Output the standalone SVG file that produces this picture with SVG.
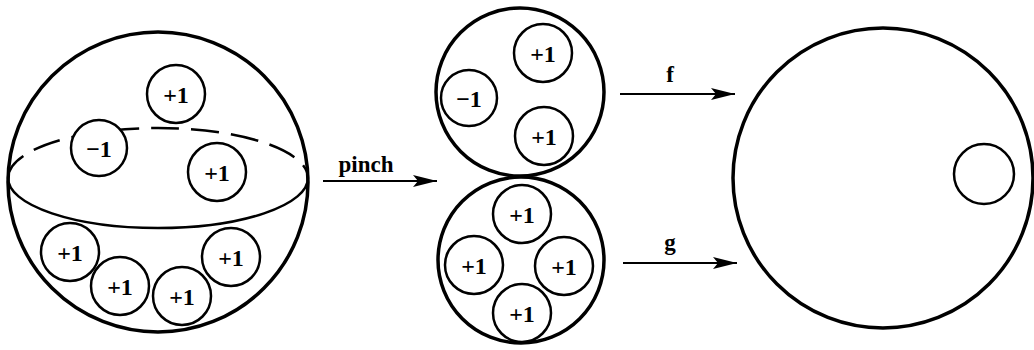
<svg xmlns="http://www.w3.org/2000/svg" width="1034" height="350" viewBox="0 0 1034 350">
<style>
.big{fill:none;stroke:#000;stroke-width:3.5}
.sm{fill:#fff;stroke:#000;stroke-width:2.5}
.lbl{font-family:"Liberation Serif","Times New Roman",serif;font-size:24px;font-weight:bold;fill:#000;text-anchor:middle;dominant-baseline:central}
.al{font-family:"Liberation Serif","Times New Roman",serif;font-size:23px;fill:#000;text-anchor:middle;font-weight:bold}
.arr{stroke:#000;stroke-width:2.2;fill:none}
</style>
<defs>
<marker id="ah" viewBox="0 0 24 12" refX="24" refY="6" markerWidth="24" markerHeight="12" markerUnits="userSpaceOnUse" orient="auto">
<path d="M0 0 L24 6 L0 12 L5 6 Z" fill="#000"/>
</marker>
<g id="p1">
<circle r="29" class="sm"/>
<text class="lbl" y="1">+1</text>
</g>
</defs>
<g id="sphere">
<circle cx="158" cy="182" r="150" class="big"/>
<path d="M8 178 A150 50 0 0 1 308 178" fill="none" stroke="#000" stroke-width="2.5" stroke-dasharray="28 12"/>
<path d="M8 178 A150 50 0 0 0 308 178" fill="none" stroke="#000" stroke-width="2.5"/>
<use href="#p1" x="176" y="94"/>
<g><circle cx="99" cy="148" r="28" class="sm"/><text class="lbl" x="99" y="149">−1</text></g>
<use href="#p1" x="217" y="172"/>
<use href="#p1" x="70" y="252"/>
<use href="#p1" x="120" y="286"/>
<use href="#p1" x="182" y="296"/>
<use href="#p1" x="231" y="257"/>
</g>
<g id="top-sphere">
<circle cx="520" cy="92" r="84" class="big"/>
<use href="#p1" x="543" y="53"/>
<g><circle cx="469" cy="98" r="28" class="sm"/><text class="lbl" x="469" y="99">−1</text></g>
<use href="#p1" x="544" y="136"/>
</g>
<g id="bottom-sphere">
<circle cx="521" cy="260" r="83" class="big"/>
<use href="#p1" x="522" y="214"/>
<use href="#p1" x="474" y="265"/>
<use href="#p1" x="564" y="266"/>
<use href="#p1" x="522" y="313"/>
</g>
<g id="target">
<circle cx="883" cy="178" r="150" class="big"/>
<circle cx="984" cy="174" r="30" fill="none" stroke="#000" stroke-width="2.5"/>
</g>
<g id="connectors">
<line x1="323" y1="181" x2="437" y2="181" class="arr" marker-end="url(#ah)"/>
<text class="al" x="366" y="172">pinch</text>
<line x1="620" y1="94" x2="735" y2="94" class="arr" marker-end="url(#ah)"/>
<text class="al" x="670" y="82">f</text>
<line x1="623" y1="263" x2="737" y2="263" class="arr" marker-end="url(#ah)"/>
<text class="al" x="670" y="250">g</text>
</g>
</svg>
